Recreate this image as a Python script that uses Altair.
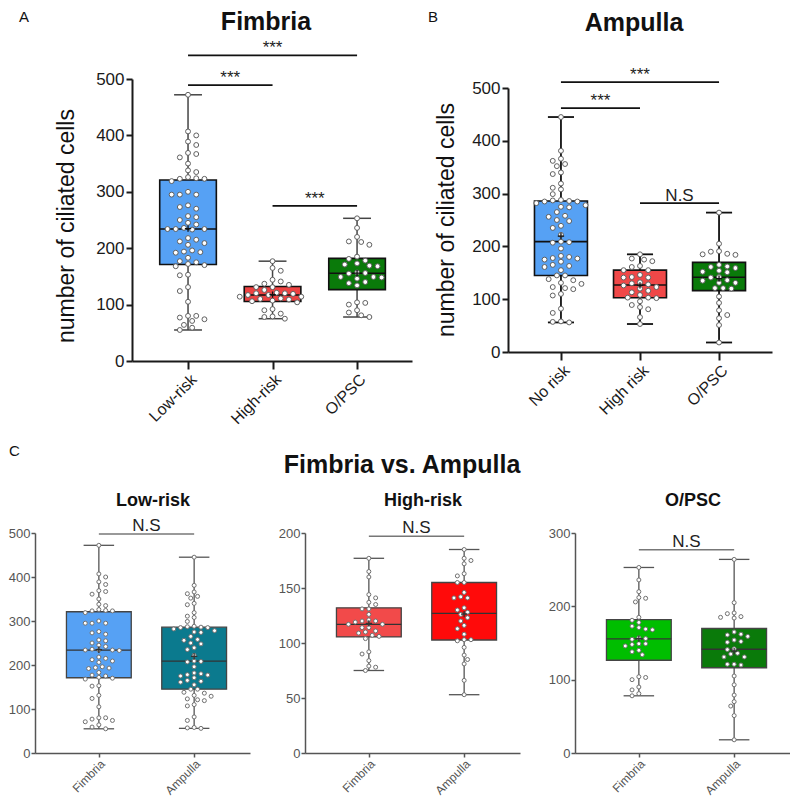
import json
import altair as alt
import numpy as np
import pandas as pd

# ---------------- data ----------------
fimbria_low = [472, 407, 400, 389, 383, 369, 367, 361, 350, 338, 335, 326, 324, 323, 323, 319,
               300, 295, 295, 295, 276, 273, 270, 257, 255, 250, 245, 242, 236, 234, 234, 234,
               233, 218, 215, 212, 209, 206, 196, 194, 193, 192, 183, 177, 175, 172, 170, 168,
               153, 152, 131, 124, 105, 80, 80, 77, 74, 71, 64, 59, 55]
fimbria_high = [177, 165, 160, 144, 141, 137, 135, 131, 131, 126, 121, 120, 120, 119, 117, 117,
                114, 114, 111, 110, 109, 107, 106, 104, 92, 90, 84, 79, 78, 75]
fimbria_opsc = [253, 236, 220, 212, 211, 206, 185, 181, 178, 173, 171, 169, 168, 157, 156, 155,
                149, 149, 148, 146, 140, 138, 134, 104, 103, 100, 90, 86, 81, 78]
ampulla_low = [445, 381, 366, 362, 356, 352, 340, 337, 319, 311, 308, 299, 288, 287, 286, 285,
               285, 282, 278, 275, 274, 265, 258, 256, 250, 248, 239, 235, 222, 208, 209, 207,
               196, 182, 180, 178, 177, 175, 171, 165, 163, 161, 155, 145, 145, 138, 136, 131,
               129, 123, 121, 119, 110, 107, 82, 74, 58, 57, 56]
ampulla_high = [185, 177, 175, 172, 163, 161, 155, 155, 146, 142, 141, 141, 132, 130, 128, 126,
                123, 120, 116, 113, 108, 103, 103, 102, 96, 89, 85, 81, 66, 53]
ampulla_opsc = [264, 205, 191, 190, 186, 185, 184, 165, 162, 161, 159, 154, 152, 151, 142, 141,
                136, 135, 131, 131, 121, 121, 120, 105, 93, 79, 70, 64, 51, 18]

a_labels = ["Low-risk", "High-risk", "O/PSC"]
b_labels = ["No risk", "High risk", "O/PSC"]
c_labels = ["Fimbria", "Ampulla"]

a_colors = ["#56A1F4", "#EE4242", "#0A7A0A"]
b_colors = ["#56A1F4", "#F04848", "#0A7A0A"]
c1_colors = ["#56A1F4", "#0B7A8E"]
c2_colors = ["#F24A4A", "#FF0A0A"]
c3_colors = ["#00BE00", "#0A7A0A"]

a_sig_from = [0, 0, 1]
a_sig_to = [1, 2, 2]
a_sig_y = [489, 542, 275]
a_sig_text = ["***", "***", "***"]
b_sig_from = [0, 0, 1]
b_sig_to = [1, 2, 2]
b_sig_y = [462, 511, 282]
b_sig_text = ["***", "***", "N.S"]
c_sig_y = [498, 197, 277]

a_yticks = [0, 100, 200, 300, 400, 500]
c1_yticks = [0, 100, 200, 300, 400, 500]
c2_yticks = [0, 50, 100, 150, 200]
c3_yticks = [0, 100, 200, 300]

FONT = "Liberation Sans"


def swarm(vals, pxu_y, d, r=0.72):
    """Deterministic beeswarm: pixel x offsets so that dots do not overlap much."""
    vals = np.asarray(vals, float)
    order = np.argsort(-vals, kind="stable")
    placed = []
    offs = np.zeros(len(vals))
    for n, i in enumerate(order):
        y = vals[i] * pxu_y
        cands = [0.0]
        for k in range(1, 40):
            s = 1 if n % 2 == 0 else -1
            cands += [s * k * d / 2, -s * k * d / 2]
        chosen = 0.0
        for c in cands:
            if all(((c - px) / d) ** 2 + ((y - py) / (r * d)) ** 2 >= 0.96 for px, py in placed):
                chosen = c
                break
        placed.append((chosen, y))
        offs[i] = chosen
    return offs


def build_panel(series, labels, colors, dom, width, height, ymax, yticks, yrange,
                sty, sig_from, sig_to, sig_y, sig_text, texts):
    pxu_x = width / (dom[1] - dom[0])
    pxu_y = (yrange[0] - yrange[1]) / ymax
    prow, srow = [], []
    for g, vals in enumerate(series):
        offs = swarm(vals, pxu_y, sty["dswarm"])
        for v, o in zip(vals, offs):
            prow.append({"g": g, "v": v, "xo": g + o / pxu_x})
        arr = np.asarray(vals, float)
        q1, med, q3 = np.percentile(arr, [25, 50, 75], method="weibull")
        srow.append(dict(g=g, lo=arr.min(), hi=arr.max(), q1=q1, q3=q3, med=med,
                         mean=arr.mean(), left=g - sty["box_half"], right=g + sty["box_half"],
                         capl=g - sty["cap_half"], capr=g + sty["cap_half"], color=colors[g]))
    pdf = pd.DataFrame(prow)
    sdf = pd.DataFrame(srow)
    sigdf = pd.DataFrame({"x1": sig_from, "x2": sig_to, "y": sig_y, "t": sig_text})
    sigdf["xm"] = (sigdf["x1"] + sigdf["x2"]) / 2

    xs = alt.Scale(domain=dom, nice=False, zero=False)
    ys = alt.Scale(domain=[0, ymax], nice=False, zero=False, range=yrange)
    xa = alt.Axis(values=list(range(len(labels))),
                  labelExpr=json.dumps(labels) + "[datum.value]",
                  labelAngle=-45, labelFontSize=sty["xlab"], labelColor=sty["axc"],
                  labelFont=FONT, labelPadding=sty["lpad"], tickSize=sty["xtick"],
                  tickColor=sty["axc"], tickWidth=sty["axw"], domainColor=sty["axc"],
                  domainWidth=sty["axw"], grid=False)
    ya = alt.Axis(values=yticks, labelFontSize=sty["ylab"], labelColor=sty["axc"],
                  labelFont=FONT, labelPadding=sty["lpad"], tickSize=sty["ytick"],
                  tickColor=sty["axc"], tickWidth=sty["axw"], domainColor=sty["axc"],
                  domainWidth=sty["axw"], grid=False)

    def X(f):
        return alt.X(f"{f}:Q", scale=xs, axis=xa, title=None)

    def Y(f):
        return alt.Y(f"{f}:Q", scale=ys, axis=ya, title=None)

    base = alt.Chart(sdf)
    layers = [
        base.mark_rule(color=sty["wc"], strokeWidth=sty["ww"]).encode(x=X("g"), y=Y("lo"), y2="hi"),
        base.mark_rule(color=sty["wc"], strokeWidth=sty["ww"]).encode(x=X("capl"), x2="capr", y=Y("lo")),
        base.mark_rule(color=sty["wc"], strokeWidth=sty["ww"]).encode(x=X("capl"), x2="capr", y=Y("hi")),
        base.mark_rect(stroke=sty["bc"], strokeWidth=sty["bw"]).encode(
            x=X("left"), x2="right", y=Y("q1"), y2="q3", fill=alt.Fill("color:N", scale=None)),
        base.mark_rule(color=sty["mc"], strokeWidth=sty["bw"]).encode(x=X("left"), x2="right", y=Y("med")),
        alt.Chart(pdf).mark_point(filled=True, fill="white", stroke=sty["pc"], strokeWidth=1,
                                  size=sty["psize"], opacity=1).encode(x=X("xo"), y=Y("v")),
        base.mark_point(shape="M-1,0L1,0M0,-1L0,1", filled=False, stroke=sty["mc"],
                        strokeWidth=1.3, size=40, opacity=1).encode(x=X("g"), y=Y("mean")),
        alt.Chart(sigdf).mark_rule(color=sty["sc"], strokeWidth=sty["sw"]).encode(
            x=X("x1"), x2="x2", y=Y("y")),
        alt.Chart(sigdf).mark_text(fontSize=sty["sfs"], color="#222", baseline="alphabetic",
                                   dy=-sty["sdy"], font=FONT).encode(x=X("xm"), y=Y("y"), text="t:N"),
    ]
    for t in texts:
        layers.append(
            alt.Chart(pd.DataFrame({"t": [t["t"]]})).mark_text(
                fontSize=t["size"], fontWeight=t.get("weight", "normal"), align=t.get("align", "center"),
                baseline=t.get("baseline", "alphabetic"), angle=t.get("angle", 0), color="#111",
                font=FONT).encode(x=alt.value(t["x"]), y=alt.value(t["y"]), text="t:N"))
    return alt.layer(*layers).properties(width=width, height=height)


sty_ab = dict(dswarm=8.2, psize=24, box_half=0.335, cap_half=0.165, xlab=16, ylab=17, xtick=8,
              ytick=6, lpad=2, axc="#1a1a1a", axw=2, wc="#444", ww=1.5, bc="#111", bw=1.6,
              mc="#111", pc="#606060", sc="#111", sw=1.8, sfs=17, sdy=2)
sty_b = dict(sty_ab, wc="#111", ww=1.8)
sty_c = dict(dswarm=6.8, psize=16, box_half=0.34, cap_half=0.16, xlab=12, ylab=13, xtick=4,
             ytick=4, lpad=1, axc="#555", axw=1.5, wc="#555", ww=1.3, bc="#444", bw=1.3,
             mc="#333", pc="#707070", sc="#777", sw=1.5, sfs=17, sdy=3)

A = build_panel([fimbria_low, fimbria_high, fimbria_opsc], a_labels, a_colors,
                [-0.663, 2.65], 280, 282, 500, a_yticks, [282, 0], sty_ab,
                a_sig_from, a_sig_to, a_sig_y, a_sig_text,
                [dict(t="Fimbria", x=134, y=-49, size=25, weight="bold"),
                 dict(t="A", x=-113, y=-57, size=15, align="left"),
                 dict(t="number of ciliated cells", x=-65, y=147, size=23, angle=270,
                      baseline="middle")])
B = build_panel([ampulla_low, ampulla_high, ampulla_opsc], b_labels, b_colors,
                [-0.67, 2.67], 264, 273, 500, a_yticks, [273, 9], sty_b,
                b_sig_from, b_sig_to, b_sig_y, b_sig_text,
                [dict(t="Ampulla", x=126, y=-48, size=25, weight="bold"),
                 dict(t="B", x=-80, y=-57, size=15, align="left"),
                 dict(t="number of ciliated cells", x=-61, y=141, size=23, angle=270,
                      baseline="middle")])
C1 = build_panel([fimbria_low, ampulla_low], c_labels, c1_colors, [-0.67, 1.586], 215, 220,
                 500, c1_yticks, [220, 0], sty_c, [0], [1], [c_sig_y[0]], ["N.S"],
                 [dict(t="Low-risk", x=118, y=-27, size=18, weight="bold"),
                  dict(t="C", x=-26, y=-77, size=15, align="left"),
                  dict(t="Fimbria vs. Ampulla", x=367, y=-60, size=25, weight="bold")])
C2 = build_panel([fimbria_high, ampulla_high], c_labels, c2_colors, [-0.67, 1.586], 215, 220,
                 200, c2_yticks, [220, 0], sty_c, [0], [1], [c_sig_y[1]], ["N.S"],
                 [dict(t="High-risk", x=118, y=-27, size=18, weight="bold")])
C3 = build_panel([fimbria_opsc, ampulla_opsc], c_labels, c3_colors, [-0.67, 1.586], 215, 220,
                 300, c3_yticks, [220, 0], sty_c, [0], [1], [c_sig_y[2]], ["N.S"],
                 [dict(t="O/PSC", x=118, y=-27, size=18, weight="bold")])

spacer = alt.Chart(pd.DataFrame({"t": [""]})).mark_text().encode(text="t:N").properties(width=50, height=1)

row1 = alt.hconcat(spacer, alt.hconcat(A, B, spacing=96, bounds="flush"), spacing=47, bounds="flush")
row2 = alt.hconcat(C1, C2, C3, spacing=55, bounds="flush")
chart = (alt.vconcat(row1, row2, spacing=17)
         .properties(padding={"left": 0, "top": 2, "right": 0, "bottom": 0})
         .configure(font=FONT)
         .configure_view(strokeWidth=0))

chart.save("out.html", embed_options={"renderer": "svg", "actions": False})
